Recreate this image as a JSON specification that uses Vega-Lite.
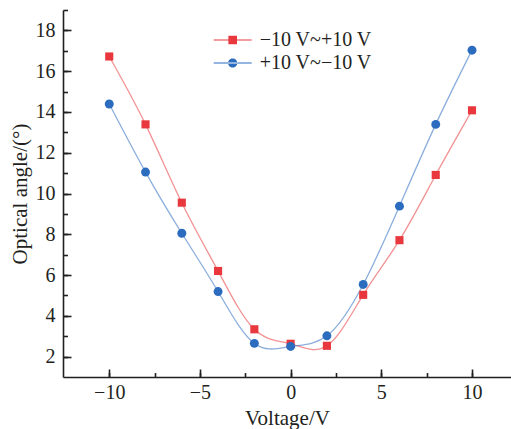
{
  "$schema": "https://vega.github.io/schema/vega-lite/v6.json",
  "width": 448,
  "height": 367,
  "autosize": "none",
  "padding": {"left": 63, "top": 10, "right": 0, "bottom": 52},
  "config": {"view": {"stroke": null}, "font": "Liberation Serif"},
  "data": {"values": [
    {"v": -10, "a": 16.72, "s": "−10 V~+10 V"},
    {"v": -8, "a": 13.39, "s": "−10 V~+10 V"},
    {"v": -6, "a": 9.55, "s": "−10 V~+10 V"},
    {"v": -4, "a": 6.2, "s": "−10 V~+10 V"},
    {"v": -2, "a": 3.34, "s": "−10 V~+10 V"},
    {"v": 0, "a": 2.63, "s": "−10 V~+10 V"},
    {"v": 2, "a": 2.53, "s": "−10 V~+10 V"},
    {"v": 4, "a": 5.03, "s": "−10 V~+10 V"},
    {"v": 6, "a": 7.71, "s": "−10 V~+10 V"},
    {"v": 8, "a": 10.91, "s": "−10 V~+10 V"},
    {"v": 10, "a": 14.08, "s": "−10 V~+10 V"},
    {"v": -10, "a": 14.39, "s": "+10 V~−10 V"},
    {"v": -8, "a": 11.05, "s": "+10 V~−10 V"},
    {"v": -6, "a": 8.05, "s": "+10 V~−10 V"},
    {"v": -4, "a": 5.19, "s": "+10 V~−10 V"},
    {"v": -2, "a": 2.65, "s": "+10 V~−10 V"},
    {"v": 0, "a": 2.5, "s": "+10 V~−10 V"},
    {"v": 2, "a": 3.02, "s": "+10 V~−10 V"},
    {"v": 4, "a": 5.54, "s": "+10 V~−10 V"},
    {"v": 6, "a": 9.38, "s": "+10 V~−10 V"},
    {"v": 8, "a": 13.39, "s": "+10 V~−10 V"},
    {"v": 10, "a": 17.03, "s": "+10 V~−10 V"}
  ]},
  "layer": [
    {
      "mark": {"type": "line", "interpolate": "natural", "strokeWidth": 1.3, "opacity": 0.55},
      "encoding": {
        "x": {
          "field": "v", "type": "quantitative",
          "scale": {"domain": [-12.55, 12.15], "nice": false, "zero": false},
          "axis": {
            "orient": "bottom",
            "values": [-10, -7.5, -5, -2.5, 0, 2.5, 5, 7.5, 10],
            "labelExpr": "datum.value % 5 === 0 ? datum.label : ''",
            "tickSize": -4.5,
            "grid": false,
            "domainColor": "#231f20", "domainWidth": 1.6,
            "tickColor": "#231f20", "tickWidth": 1.6,
            "labelFont": "Liberation Serif", "labelFontSize": 20, "labelColor": "#231f20",
            "labelPadding": 9.5, "labelFlush": false,
            "title": "Voltage/V", "titleFont": "Liberation Serif", "titleFontSize": 21,
            "titleFontWeight": "normal", "titleColor": "#231f20", "titlePadding": 5
          }
        },
        "y": {
          "field": "a", "type": "quantitative",
          "scale": {"domain": [1, 19], "nice": false, "zero": false},
          "axis": {
            "orient": "left",
            "values": [2, 3, 4, 5, 6, 7, 8, 9, 10, 11, 12, 13, 14, 15, 16, 17, 18, 19],
            "labelExpr": "datum.value % 2 === 0 ? datum.label : ''",
            "tickSize": -4.5,
            "grid": false,
            "domainColor": "#231f20", "domainWidth": 1.6,
            "tickColor": "#231f20", "tickWidth": 1.6,
            "labelFont": "Liberation Serif", "labelFontSize": 20, "labelColor": "#231f20",
            "labelPadding": 12.5,
            "title": "Optical angle/(°)", "titleFont": "Liberation Serif", "titleFontSize": 21,
            "titleFontWeight": "normal", "titleColor": "#231f20", "titlePadding": 5
          }
        },
        "color": {
          "field": "s", "type": "nominal",
          "scale": {"domain": ["−10 V~+10 V", "+10 V~−10 V"], "range": ["#e8383d", "#2b6cbf"]},
          "legend": null
        }
      }
    },
    {
      "mark": {"type": "point", "filled": true, "opacity": 1},
      "encoding": {
        "x": {
          "field": "v", "type": "quantitative",
          "axis": {
            "orient": "bottom", "values": [-10, -5, 0, 5, 10], "tickSize": -8,
            "labels": false, "domain": false, "title": null, "grid": false,
            "tickColor": "#231f20", "tickWidth": 1.6
          }
        },
        "y": {
          "field": "a", "type": "quantitative",
          "axis": {
            "orient": "left", "values": [2, 4, 6, 8, 10, 12, 14, 16, 18], "tickSize": -8,
            "labels": false, "domain": false, "title": null, "grid": false,
            "tickColor": "#231f20", "tickWidth": 1.6
          }
        },
        "color": {"field": "s", "type": "nominal", "legend": null},
        "shape": {"field": "s", "type": "nominal", "scale": {"domain": ["−10 V~+10 V", "+10 V~−10 V"], "range": ["square", "circle"]}, "legend": null},
        "size": {"field": "s", "type": "nominal", "scale": {"domain": ["−10 V~+10 V", "+10 V~−10 V"], "range": [66, 80]}, "legend": null}
      }
    },
    {
      "transform": [{"filter": "false"}],
      "mark": {"type": "point", "filled": true, "opacity": 1},
      "encoding": {
        "x": {"field": "v", "type": "quantitative", "axis": null},
        "y": {"field": "a", "type": "quantitative", "axis": null},
        "color": {
          "field": "s", "type": "nominal",
          "legend": {
            "orient": "none", "legendX": 158.7, "legendY": 19, "padding": 0, "title": null,
            "labelFont": "Liberation Serif", "labelFontSize": 20, "labelColor": "#231f20",
            "labelOffset": 16, "rowPadding": 2, "symbolSize": 400
          }
        },
        "shape": {
          "field": "s", "type": "nominal",
          "scale": {"domain": ["−10 V~+10 V", "+10 V~−10 V"], "range": [
            "M-1.9,-0.04H1.9V0.04H-1.9Z M-0.43,-0.43H0.43V0.43H-0.43Z",
            "M-1.9,-0.04H1.9V0.04H-1.9Z M-0.46,0A0.46,0.46 0 1,0 0.46,0A0.46,0.46 0 1,0 -0.46,0Z"
          ]},
          "legend": {
            "orient": "none", "legendX": 158.7, "legendY": 19, "padding": 0, "title": null,
            "labelFont": "Liberation Serif", "labelFontSize": 20, "labelColor": "#231f20",
            "labelOffset": 16, "rowPadding": 2, "symbolSize": 400
          }
        }
      }
    }
  ],
  "resolve": {
    "axis": {"x": "independent", "y": "independent"},
    "scale": {"shape": "independent"},
    "legend": {"color": "independent", "shape": "independent"}
  }
}
